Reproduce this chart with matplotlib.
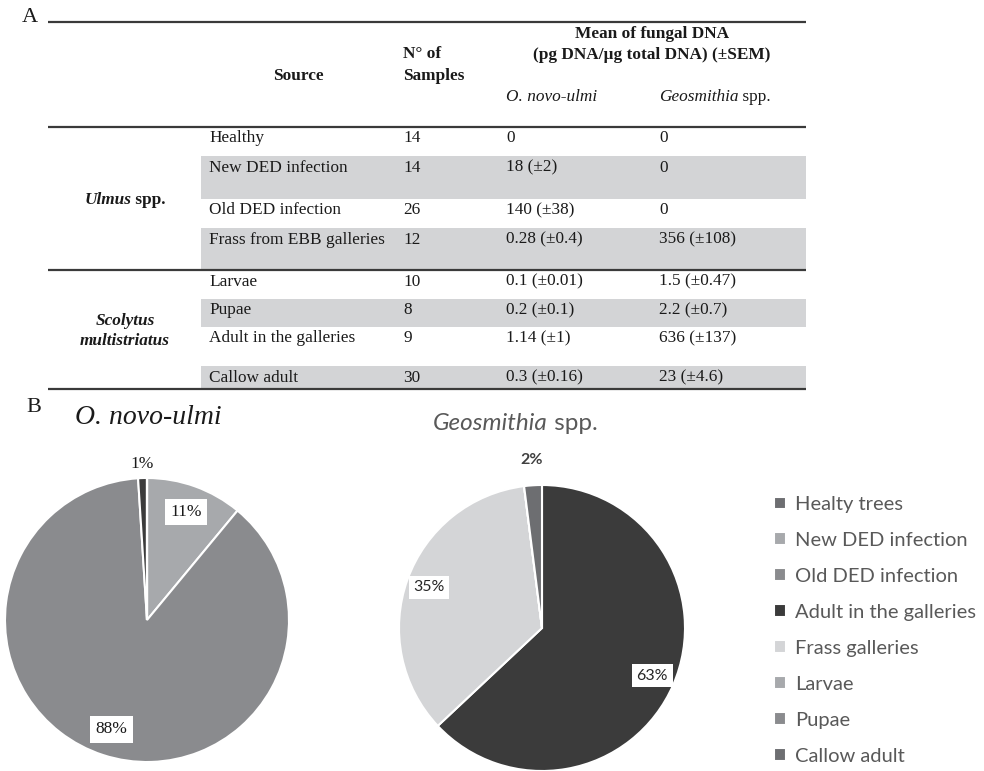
import numpy as np
import matplotlib
matplotlib.use("Agg")
import matplotlib.pyplot as plt

# ---- Panel A: table of fungal DNA per source ----
sources = ["Healthy", "New DED infection", "Old DED infection", "Frass from EBB galleries",
           "Larvae", "Pupae", "Adult in the galleries", "Callow adult"]
n_samples = [14, 14, 26, 12, 10, 8, 9, 30]
novo_mean = [0, 18, 140, 0.28, 0.1, 0.2, 1.14, 0.3]
novo_sem = [None, 2, 38, 0.4, 0.01, 0.1, 1, 0.16]
geo_mean = [0, 0, 0, 356, 1.5, 2.2, 636, 23]
geo_sem = [None, None, None, 108, 0.47, 0.7, 137, 4.6]

# ---- Panel B: share of fungal DNA by source (%) ----
categories = ["Healty trees", "New DED infection", "Old DED infection", "Adult in the galleries",
              "Frass galleries", "Larvae", "Pupae", "Callow adult"]
novo_pct = [0, 11, 88, 1, 0, 0, 0, 0]
geo_pct = [0, 0, 0, 63, 35, 0, 0, 2]
grays = ["#6d6e71", "#a7a9ac", "#8a8b8e", "#3b3b3b", "#d4d5d7", "#a7a9ac", "#8a8b8e", "#6d6e71"]

SERIF = "Liberation Serif"
SANS = "Lato"
INK = "#1a1a1a"
W, H = 984, 771

fig = plt.figure(figsize=(W / 100, H / 100), dpi=100)
bg = fig.add_axes([0, 0, 1, 1])
bg.set_xlim(0, W)
bg.set_ylim(H, 0)
bg.axis("off")
rend = fig.canvas.get_renderer()


def fmt(m, s):
    return f"{m:g}" if s is None else f"{m:g} (\u00b1{s:g})"


def rich(ax, x, y, parts, ha="left", **kw):
    # draw text pieces with different styles one after another on a line
    texts = [ax.text(0, y, s, va="center", **kw, **st) for s, st in parts]
    widths = [t.get_window_extent(rend).width for t in texts]
    x0 = x - sum(widths) / 2 if ha == "center" else x
    for t, w in zip(texts, widths):
        t.set_x(x0)
        x0 += w


# table frame
x_left, x_right, x_shade = 48, 806, 201
row_edges = [127, 156, 199, 228, 270, 299, 327, 366, 389]
for i in range(len(sources)):
    if i % 2 == 1:
        bg.fill_between([x_shade, x_right], row_edges[i], row_edges[i + 1],
                        color="#d3d4d6", lw=0)
for yl in [22, 127, 270, 389]:
    bg.plot([x_left, x_right], [yl, yl], color="#3a3a3a", lw=1.6, solid_capstyle="butt")

tkw = dict(family=SERIF, fontsize=12.4, color=INK)
bg.text(30, 17, "A", family=SERIF, fontsize=16, color=INK, ha="center", va="center")
bg.text(298, 76, "Source", ha="center", va="center", weight="bold", **tkw)
bg.text(403, 54, "N\u00b0 of", ha="left", va="center", weight="bold", **tkw)
bg.text(403, 76, "Samples", ha="left", va="center", weight="bold", **tkw)
bg.text(652, 34, "Mean of fungal DNA", ha="center", va="center", weight="bold", **tkw)
bg.text(652, 55, "(pg DNA/\u00b5g total DNA) (\u00b1SEM)", ha="center", va="center",
        weight="bold", **tkw)
bg.text(506, 97, "O. novo-ulmi", ha="left", va="center", style="italic", **tkw)
rich(bg, 659, 97, [("Geosmithia", dict(style="italic")), (" spp.", {})], **tkw)

col_x = [209, 403, 506, 659]
for i, src in enumerate(sources):
    y = row_edges[i] + 11.5
    if i == len(sources) - 1:
        y = (row_edges[i] + row_edges[i + 1]) / 2
    cells = [src, str(n_samples[i]), fmt(novo_mean[i], novo_sem[i]), fmt(geo_mean[i], geo_sem[i])]
    for x, c in zip(col_x, cells):
        bg.text(x, y, c, ha="left", va="center", **tkw)

rich(bg, 125, 200, [("Ulmus", dict(style="italic")), (" spp.", {})], ha="center",
     weight="bold", **tkw)
bg.text(125, 321, "Scolytus", ha="center", va="center", weight="bold", style="italic", **tkw)
bg.text(125, 341, "multistriatus", ha="center", va="center", weight="bold", style="italic", **tkw)

# ---- pies ----
bg.text(34, 407, "B", family=SERIF, fontsize=16, color=INK, ha="center", va="center")


def draw_pie(cx, cy, r, pct, lab_kw, in_d, out_d, out_kw):
    ax = fig.add_axes([(cx - r) / W, (H - cy - r) / H, 2 * r / W, 2 * r / H])
    wedges, _ = ax.pie(pct, colors=grays, startangle=90, counterclock=False,
                       wedgeprops=dict(edgecolor="white", linewidth=1.5))
    ax.set_xlim(-1, 1)
    ax.set_ylim(-1, 1)
    for w, p in zip(wedges, pct):
        if p == 0:
            continue
        a = np.deg2rad((w.theta1 + w.theta2) / 2)
        if p < 5:
            ax.text(out_d * np.cos(a), out_d * np.sin(a), f"{p}%", ha="center", va="center", **out_kw)
        else:
            ax.text(in_d * np.cos(a), in_d * np.sin(a), f"{p}%", ha="center", va="center",
                    bbox=dict(boxstyle="square,pad=0.3", fc="white", ec="none"), **lab_kw)
    return wedges


w1 = draw_pie(147, 620, 142, novo_pct, dict(family=SERIF, fontsize=12.5, color=INK),
              0.81, 1.1, dict(family=SERIF, fontsize=12.5, color=INK))
bg.text(148, 417, "O. novo-ulmi", family=SERIF, style="italic", fontsize=20, color=INK,
        ha="center", va="center")

draw_pie(542, 628, 143, geo_pct, dict(family=SANS, fontsize=11.5, color="#262626"),
         0.84, 1.18, dict(family=SANS, fontsize=11.5, color="#404040", weight="bold"))
rich(bg, 515, 423, [("Geosmithia", dict(style="italic")), (" spp.", {})], ha="center",
     family=SANS, fontsize=17.5, color="#595959")

fig.legend(w1, categories, loc="upper left", bbox_to_anchor=(774 / W, (H - 496) / H),
           bbox_transform=fig.transFigure, frameon=False, borderpad=0, borderaxespad=0,
           prop=dict(family=SANS, size=14.5), labelcolor="#595959",
           handlelength=0.6, handleheight=0.6, handletextpad=0.45, labelspacing=0.94)

fig.savefig("out.png", dpi=100)
